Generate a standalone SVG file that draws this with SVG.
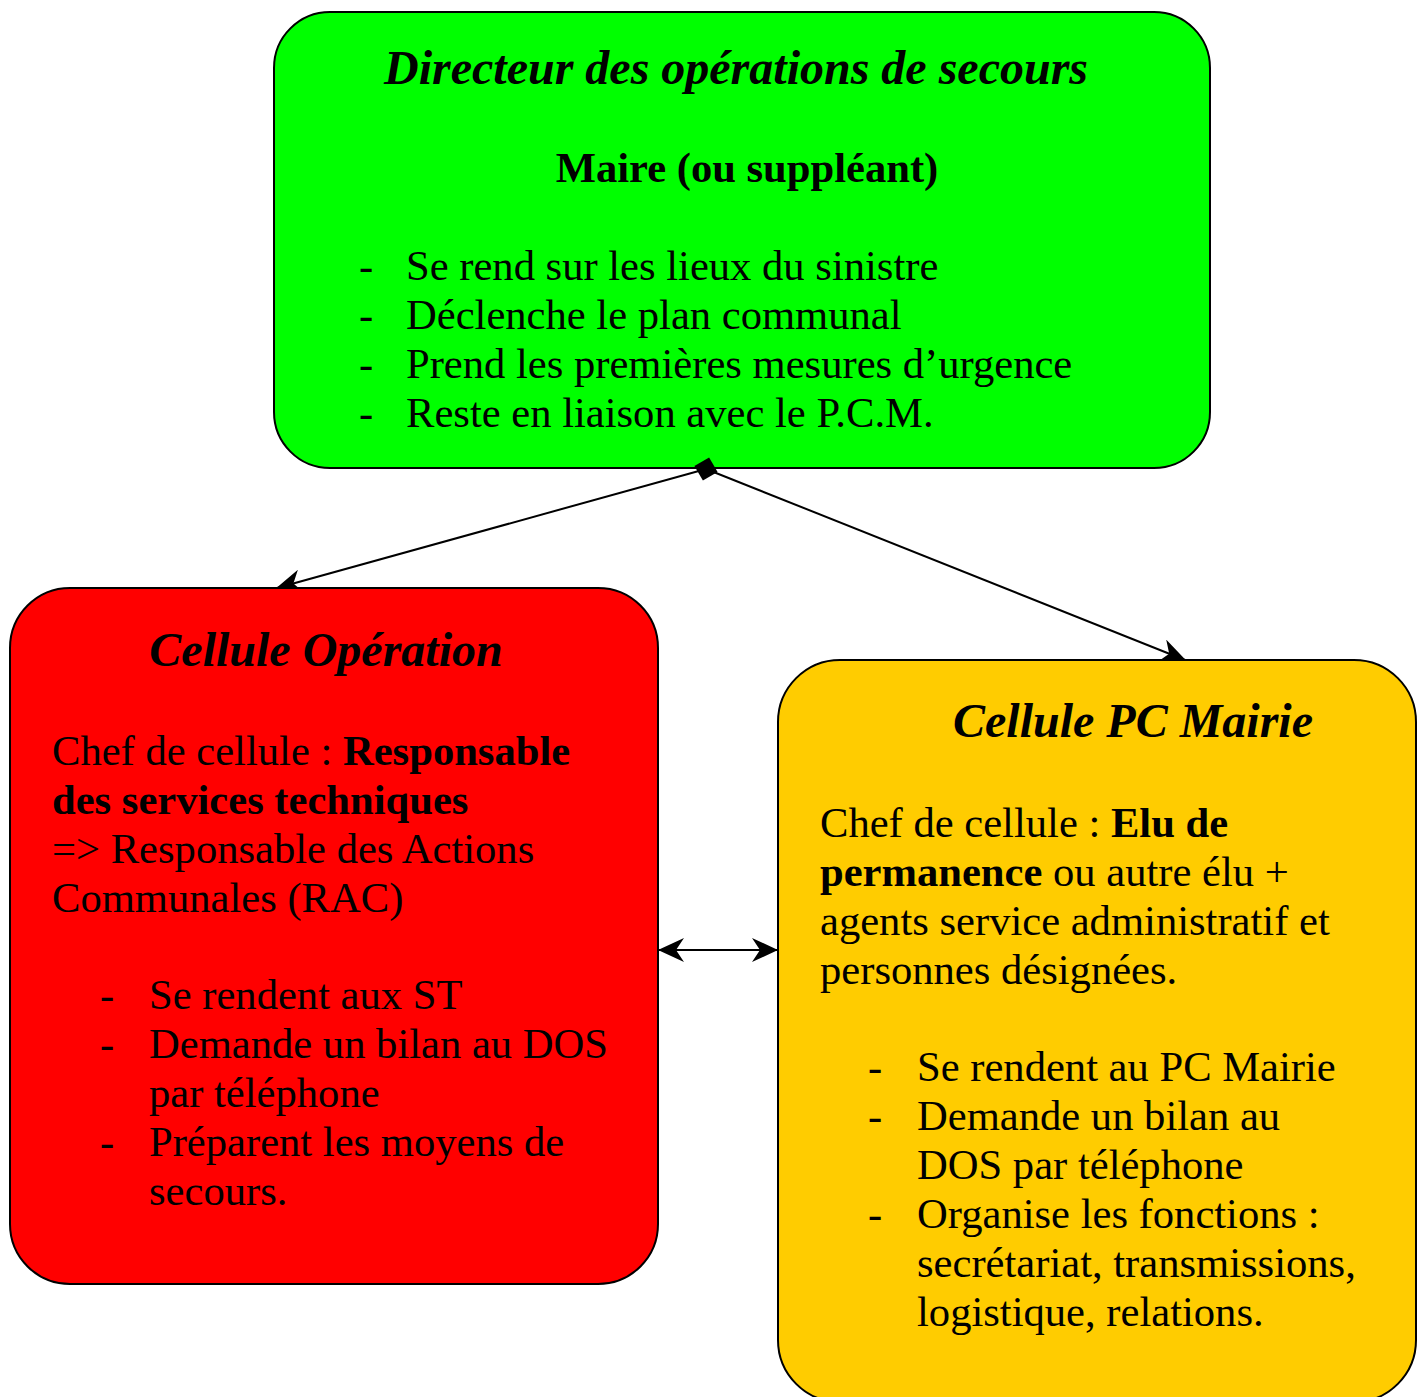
<svg xmlns="http://www.w3.org/2000/svg" width="1420" height="1397" viewBox="0 0 1420 1397">
<style>
text{font-family:"Liberation Serif","Times New Roman",serif;font-size:42.6px;fill:#000}
.t{font-weight:bold;font-style:italic;font-size:48px}
.b{font-weight:bold}
.box{stroke:#000;stroke-width:2}
.c{stroke:#000;stroke-width:2;fill:none}
</style>
<defs>
<marker id="arr" markerUnits="userSpaceOnUse" markerWidth="26" markerHeight="24" viewBox="0 0 26 24" refX="25" refY="12" orient="auto-start-reverse">
<path d="M0,0 L26,12 L0,24 L8,12 z" fill="#000"/>
</marker>
</defs>
<g id="connectors">
<line class="c" x1="706" y1="469" x2="277" y2="588" marker-end="url(#arr)"/>
<line class="c" x1="706" y1="469" x2="1185" y2="660" marker-end="url(#arr)"/>
<line class="c" x1="659" y1="950" x2="777" y2="950" marker-start="url(#arr)" marker-end="url(#arr)"/>
</g>
<g id="dos">
<rect class="box" x="274" y="12" width="936" height="456" rx="56" ry="56" fill="#00ff00"/>
<text class="t" x="736" y="84" text-anchor="middle">Directeur des opérations de secours</text>
<text class="b" x="747" y="182" text-anchor="middle">Maire (ou suppléant)</text>
<text x="359" y="280">-</text><text x="406" y="280">Se rend sur les lieux du sinistre</text>
<text x="359" y="329">-</text><text x="406" y="329">Déclenche le plan communal</text>
<text x="359" y="378">-</text><text x="406" y="378">Prend les premières mesures d’urgence</text>
<text x="359" y="427">-</text><text x="406" y="427">Reste en liaison avec le P.C.M.</text>
</g>
<g id="diamond-end">
<path d="M706,457 L718,469 L706,481 L694,469 z" fill="#000" transform="rotate(15 706 469)"/>
</g>
<g id="operation">
<rect class="box" x="10" y="588" width="648" height="696" rx="60" ry="60" fill="#ff0000"/>
<text class="t" x="326" y="666" text-anchor="middle">Cellule Opération</text>
<text x="52" y="765">Chef de cellule : <tspan class="b">Responsable</tspan></text>
<text class="b" x="52" y="814">des services techniques</text>
<text x="52" y="863">=&gt; Responsable des Actions</text>
<text x="52" y="912">Communales (RAC)</text>
<text x="100" y="1009">-</text><text x="149" y="1009">Se rendent aux ST</text>
<text x="100" y="1058">-</text><text x="149" y="1058">Demande un bilan au DOS</text>
<text x="149" y="1107">par téléphone</text>
<text x="100" y="1156">-</text><text x="149" y="1156">Préparent les moyens de</text>
<text x="149" y="1205">secours.</text>
</g>
<g id="pcmairie">
<rect class="box" x="778" y="660" width="638" height="742" rx="62" ry="62" fill="#ffcc00"/>
<text class="t" x="1133" y="737" text-anchor="middle">Cellule PC Mairie</text>
<text x="820" y="837">Chef de cellule : <tspan class="b">Elu de</tspan></text>
<text x="820" y="886"><tspan class="b">permanence</tspan> ou autre élu +</text>
<text x="820" y="935">agents service administratif et</text>
<text x="820" y="984">personnes désignées.</text>
<text x="868" y="1081">-</text><text x="917" y="1081">Se rendent au PC Mairie</text>
<text x="868" y="1130">-</text><text x="917" y="1130">Demande un bilan au</text>
<text x="917" y="1179">DOS par téléphone</text>
<text x="868" y="1228">-</text><text x="917" y="1228">Organise les fonctions :</text>
<text x="917" y="1277">secrétariat, transmissions,</text>
<text x="917" y="1326">logistique, relations.</text>
</g>
</svg>
